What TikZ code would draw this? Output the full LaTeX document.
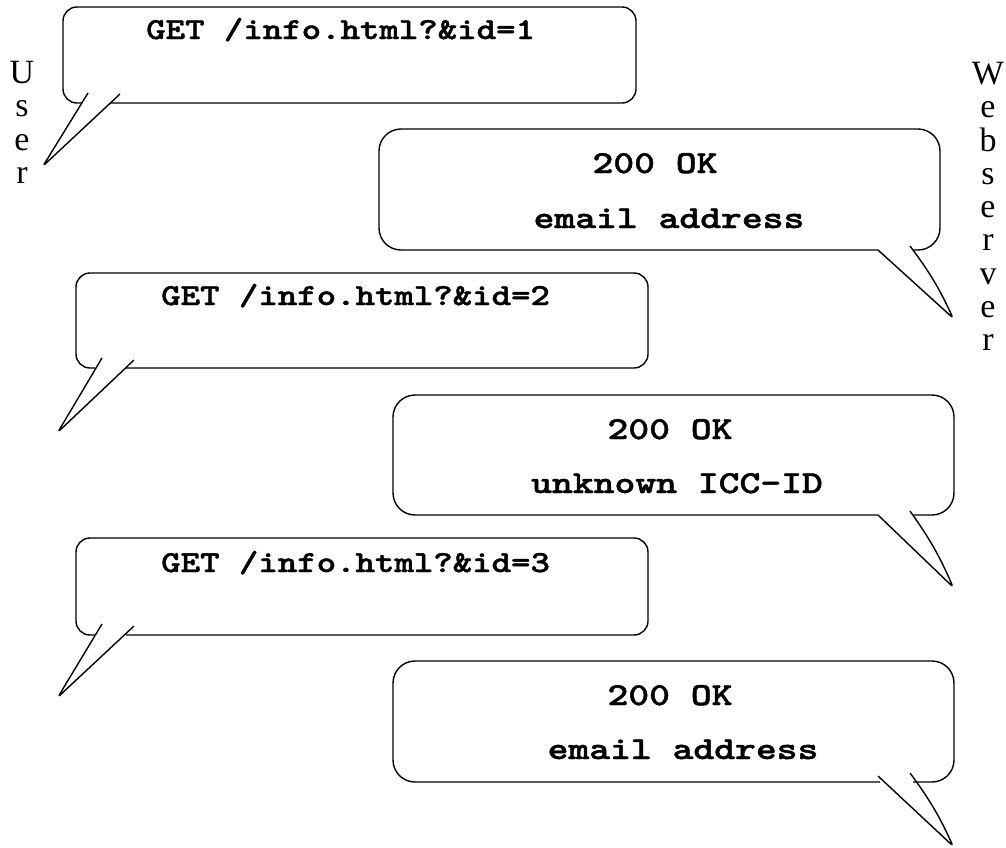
\documentclass[tikz,border=0pt]{standalone}
\usepackage{fontspec}
\usepackage{graphicx}
\newfontfamily\sidefont{Liberation Serif}
\newfontfamily\msgfam{lmmonolt10-bold}[Extension=.otf, FakeBold=1.2]
\newcommand\reqfont{\fontsize{30.6}{36}\selectfont\msgfam}
\newcommand\resfont{\fontsize{32}{36}\selectfont\msgfam}
\newcommand\req[1]{\scalebox{1.21}[1]{#1}}
\newcommand\res[1]{\scalebox{1.24}[1]{#1}}
\tikzset{
  balloon/.style={draw=black, line width=1.4pt, rounded corners=#1},
  tailline/.style={draw=black, line width=1.4pt, rounded corners=3pt, line join=round},
  reqtext/.style={font=\reqfont, inner sep=0pt, anchor=base west},
  restext/.style={font=\resfont, inner sep=0pt, anchor=base},
  side/.style={font=\sidefont\fontsize{34}{33.3}\selectfont, align=center, inner sep=0pt, anchor=north}
}
\begin{document}
\begin{tikzpicture}[x=1pt,y=-1pt]
\useasboundingbox (0,0) rectangle (1006,847);
% side labels
\node[side] (user) at (22,61) {U\\s\\e\\r};
\node[side] (webserver) at (988,62) {W\\e\\b\\s\\e\\r\\v\\e\\r};
% request 1
\draw[balloon=14pt] (82,103) -| (63,7) -| (636,103) -- (110,103);
\draw[tailline] (88,93) -- (43,166) -- (120,94);
\node[reqtext] (req1) at (146,39) {\req{GET /info.html?\&id=1}};
% response 1
\draw[balloon=22pt] (913,250) -| (940,129) -| (379,250) -- (878,250);
\draw[tailline] (878,250) -- (953,318) to[bend right=6] (910,246);
\node[restext] (ok1) at (655,173) {\res{200 OK}};
\node[restext] (mail1) at (669,228) {\res{email address}};
% request 2
\draw[balloon=14pt] (95,368) -| (76,273) -| (648,368) -- (126,368);
\draw[tailline] (102,358) -- (58,432) -- (134,360);
\node[reqtext] (req2) at (161,305) {\req{GET /info.html?\&id=2}};
% response 2
\draw[balloon=22pt] (913,515) -| (954,395) -| (393,515) -- (878,515);
\draw[tailline] (878,515) -- (953,587) to[bend right=6] (910,511);
\node[restext] (ok2) at (670,439) {\res{200 OK}};
\node[restext] (unk2) at (677,493) {\res{unknown ICC-ID}};
% request 3
\draw[balloon=14pt] (95,635) -| (76,538) -| (648,635) -- (126,635);
\draw[tailline] (102,624) -- (58,697) -- (134,626);
\node[reqtext] (req3) at (161,572) {\req{GET /info.html?\&id=3}};
% response 3
\draw[balloon=22pt] (913,782) -| (954,661) -| (393,782) -- (880,782);
\draw[tailline] (878,776) -- (953,846) to[bend right=6] (910,773);
\node[restext] (ok3) at (670,705) {\res{200 OK}};
\node[restext] (mail3) at (683,759) {\res{email address}};
\end{tikzpicture}
\end{document}
